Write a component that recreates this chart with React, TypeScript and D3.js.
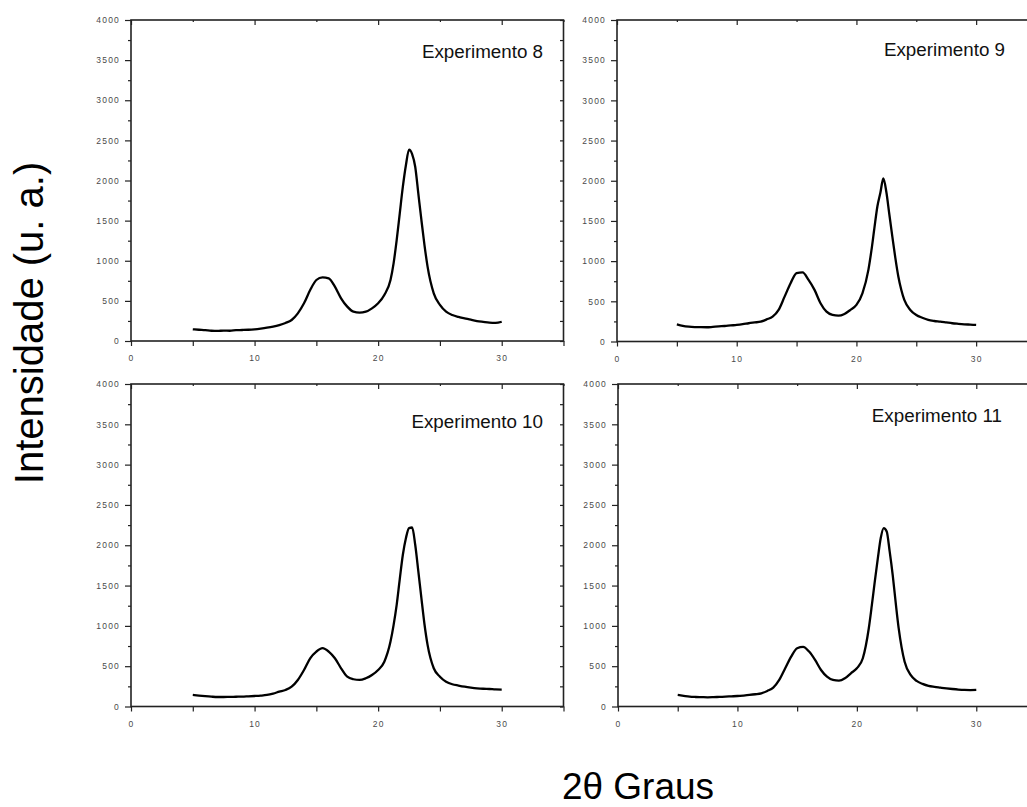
import { useEffect, useRef } from "react";
import * as d3 from "d3";

// 2θ (graus) — shared sampling grid, denser around the main peak
const twoTheta = [
  5, 5.5, 6, 6.5, 7, 7.5, 8, 8.5, 9, 9.5, 10, 10.5, 11, 11.5, 12, 12.5, 13, 13.5, 14, 14.5,
  15, 15.5, 16, 16.5, 17, 17.5, 18, 18.5, 19, 19.5, 20, 20.5, 21,
  21.25, 21.5, 21.75, 22, 22.25, 22.5, 22.75, 23, 23.25, 23.5, 23.75, 24,
  24.5, 25, 25.5, 26, 26.5, 27, 27.5, 28, 28.5, 29, 29.5, 30,
];

const exp8 = [
  146, 140, 135, 128, 125, 130, 128, 135, 137, 140, 146, 155, 166, 180, 199, 225, 262, 345, 470, 635,
  760, 794, 781, 677, 532, 428, 365, 353, 365, 407, 470, 573, 760,
  968, 1258, 1591, 1923, 2193, 2385, 2330, 2172, 1840, 1508, 1196, 926,
  594, 449, 365, 324, 300, 283, 265, 249, 238, 228, 225, 240,
];

const exp9 = [
  214, 195, 185, 180, 178, 177, 182, 188, 193, 200, 206, 215, 227, 237, 247, 275, 309, 393, 558, 725,
  850, 860, 766, 642, 476, 371, 330, 321, 343, 393, 455, 600, 891,
  1130, 1410, 1680, 1850, 2030, 1860, 1580, 1306, 1040, 808, 640, 517,
  393, 330, 295, 268, 255, 247, 237, 227, 220, 214, 210, 206,
];

const exp10 = [
  143, 135, 128, 122, 118, 118, 120, 121, 122, 126, 130, 135, 143, 160, 184, 205, 246, 329, 453, 598,
  681, 723, 681, 598, 474, 370, 338, 329, 350, 391, 453, 556, 805,
  1010, 1261, 1580, 1882, 2090, 2213, 2220, 2006, 1680, 1344, 1020, 764,
  474, 370, 308, 276, 260, 246, 235, 226, 220, 217, 212, 210,
];

const exp11 = [
  143, 132, 122, 118, 116, 114, 116, 119, 122, 126, 130, 136, 143, 152, 164, 193, 234, 329, 474, 619,
  723, 740, 681, 578, 453, 370, 329, 321, 350, 412, 474, 598, 971,
  1250, 1550, 1830, 2089, 2213, 2171, 1920, 1633, 1290, 971, 730, 556,
  391, 317, 280, 255, 243, 234, 225, 217, 210, 205, 203, 205,
];

const titles = ["Experimento 8", "Experimento 9", "Experimento 10", "Experimento 11"];
const xMajor = [0, 10, 20, 30];
const xMinor = [5, 15, 25, 35];
const yMajor = [0, 500, 1000, 1500, 2000, 2500, 3000, 3500, 4000];
const yMinor = [250, 750, 1250, 1750, 2250, 2750, 3250, 3750];

const W = 1027;
const H = 807;
const FONT = "'Liberation Sans', Arial, sans-serif";

export default function App() {
  const ref = useRef<SVGSVGElement>(null);

  useEffect(() => {
    const el = ref.current;
    if (!el) return;
    d3.select(el).selectAll("*").remove();
    const svg = d3.select(el);

    // panel boxes: x0/x35 pixel extents, top/bottom of plot area, title anchor
    const panels = [
      { values: exp8, x0: 131, x1: 563.5, top: 20, bot: 341, tx: 543, ty: 58 },
      { values: exp9, x0: 617, x1: 1036, top: 20, bot: 341.5, tx: 1005, ty: 56 },
      { values: exp10, x0: 131, x1: 563.5, top: 384, bot: 706.5, tx: 543, ty: 428 },
      { values: exp11, x0: 618, x1: 1036, top: 384, bot: 706.5, tx: 1002, ty: 422 },
    ];

    panels.forEach((p, i) => {
      const x = d3.scaleLinear().domain([0, 35]).range([p.x0, p.x1]);
      const y = d3.scaleLinear().domain([0, 4000]).range([p.bot, p.top]);
      const g = svg.append("g");

      const style = (sel: any) => {
        sel.select(".domain").remove();
        sel.selectAll(".tick line").attr("stroke", "#222").attr("stroke-width", 1.2);
        sel.selectAll(".tick text")
          .attr("fill", "#4a4a4a")
          .style("font-family", FONT)
          .style("font-size", "8.5px")
          .style("letter-spacing", "1.2px");
      };

      // left axis
      g.append("g").attr("transform", `translate(${p.x0},0)`)
        .call(d3.axisLeft(y).tickValues(yMajor).tickSize(6).tickPadding(5).tickFormat(d3.format("d")))
        .call(style);
      g.append("g").attr("transform", `translate(${p.x0},0)`)
        .call(d3.axisLeft(y).tickValues(yMinor).tickSize(3).tickFormat(() => ""))
        .call(style);
      // right axis (inward)
      g.append("g").attr("transform", `translate(${p.x1},0)`)
        .call(d3.axisRight(y).tickValues([...yMajor, ...yMinor]).tickSize(-3.5).tickFormat(() => ""))
        .call(style);
      // bottom axis
      g.append("g").attr("transform", `translate(0,${p.bot})`)
        .call(d3.axisBottom(x).tickValues(xMajor).tickSize(5).tickPadding(9).tickFormat(d3.format("d")))
        .call(style);
      g.append("g").attr("transform", `translate(0,${p.bot})`)
        .call(d3.axisBottom(x).tickValues(xMinor).tickSize(5).tickFormat(() => ""))
        .call(style);
      // top axis (inward)
      g.append("g").attr("transform", `translate(0,${p.top})`)
        .call(d3.axisTop(x).tickValues(xMajor).tickSize(-5).tickFormat(() => ""))
        .call(style);
      g.append("g").attr("transform", `translate(0,${p.top})`)
        .call(d3.axisTop(x).tickValues(xMinor).tickSize(-2).tickFormat(() => ""))
        .call(style);

      // frame
      g.append("rect")
        .attr("x", p.x0).attr("y", p.top)
        .attr("width", p.x1 - p.x0).attr("height", p.bot - p.top)
        .attr("fill", "none").attr("stroke", "#222").attr("stroke-width", 1.6);

      // pattern
      const line = d3.line<number>()
        .x((_, k) => x(twoTheta[k]))
        .y((d) => y(d))
        .curve(d3.curveMonotoneX);
      g.append("path")
        .attr("d", line(p.values))
        .attr("fill", "none")
        .attr("stroke", "#000")
        .attr("stroke-width", 2.3)
        .attr("stroke-linejoin", "round");

      g.append("text")
        .attr("x", p.tx).attr("y", p.ty)
        .attr("text-anchor", "end")
        .attr("fill", "#111")
        .style("font-family", FONT)
        .style("font-size", "18.8px")
        .text(titles[i]);
    });

    svg.append("text")
      .attr("transform", `translate(43,323) rotate(-90)`)
      .attr("text-anchor", "middle")
      .attr("fill", "#000")
      .style("font-family", FONT)
      .style("font-size", "40px")
      .text("Intensidade (u. a.)");

    svg.append("text")
      .attr("x", 638).attr("y", 799)
      .attr("text-anchor", "middle")
      .attr("fill", "#000")
      .style("font-family", FONT)
      .style("font-size", "37px")
      .text("2θ Graus");
  }, []);

  return (
    <svg
      ref={ref}
      width={W}
      height={H}
      style={{ position: "absolute", left: 0, top: 0, background: "#fff", overflow: "hidden" }}
    />
  );
}
